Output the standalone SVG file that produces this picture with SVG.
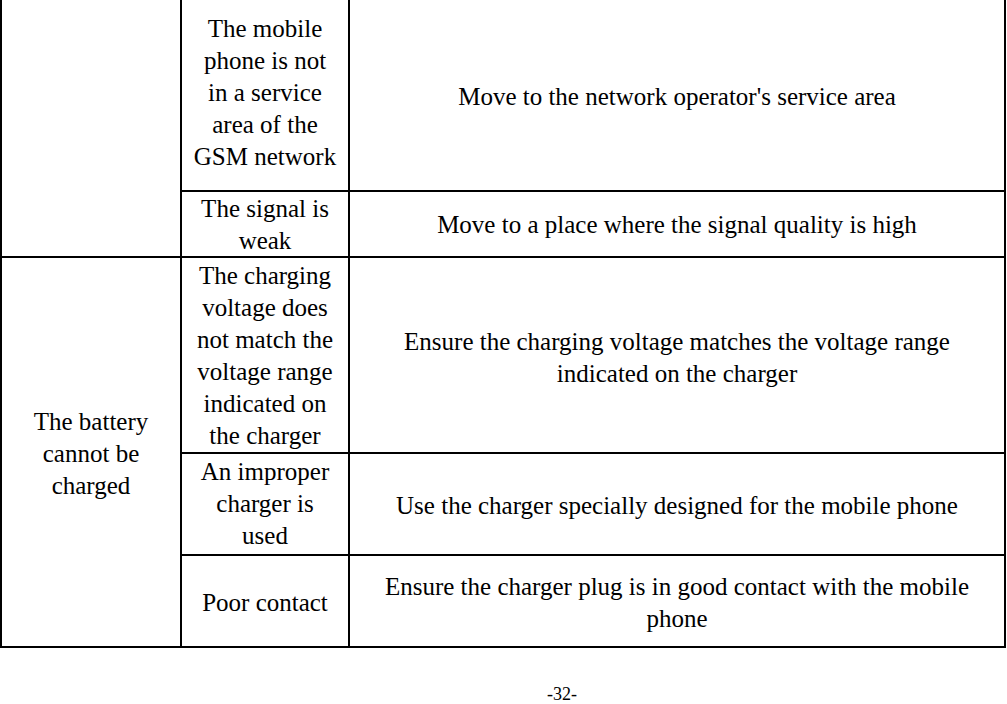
<svg xmlns="http://www.w3.org/2000/svg" width="1007" height="704" viewBox="0 0 1007 704">
<style>
text{font-family:"Liberation Serif",serif;font-size:25px;fill:#000;text-anchor:middle}
line{stroke:#000;stroke-width:2}
</style>
<rect width="1007" height="704" fill="#fff"/>
<g id="grid">
<line x1="1" y1="0" x2="1" y2="648"/>
<line x1="1005" y1="0" x2="1005" y2="648"/>
<line x1="181" y1="0" x2="181" y2="648"/>
<line x1="349" y1="0" x2="349" y2="648"/>
<line x1="181" y1="191" x2="1005" y2="191"/>
<line x1="0" y1="257" x2="1006" y2="257"/>
<line x1="181" y1="453" x2="1005" y2="453"/>
<line x1="181" y1="555" x2="1005" y2="555"/>
<line x1="0" y1="647" x2="1006" y2="647"/>
</g>
<g id="c1"><text x="265" y="37">The mobile</text><text x="265" y="69">phone is not</text><text x="265" y="101">in a service</text><text x="265" y="133">area of the</text><text x="265" y="165">GSM network</text></g>
<g id="r1"><text x="677" y="105">Move to the network operator's service area</text></g>
<g id="c2"><text x="265" y="217">The signal is</text><text x="265" y="249">weak</text></g>
<g id="r2"><text x="677" y="233">Move to a place where the signal quality is high</text></g>
<g id="battery"><text x="91" y="430">The battery</text><text x="91" y="462">cannot be</text><text x="91" y="494">charged</text></g>
<g id="c3"><text x="265" y="284">The charging</text><text x="265" y="316">voltage does</text><text x="265" y="348">not match the</text><text x="265" y="380">voltage range</text><text x="265" y="412">indicated on</text><text x="265" y="444">the charger</text></g>
<g id="r3"><text x="677" y="350">Ensure the charging voltage matches the voltage range</text><text x="677" y="382">indicated on the charger</text></g>
<g id="c4"><text x="265" y="480">An improper</text><text x="265" y="512">charger is</text><text x="265" y="544">used</text></g>
<g id="r4"><text x="677" y="514">Use the charger specially designed for the mobile phone</text></g>
<g id="c5"><text x="265" y="611">Poor contact</text></g>
<g id="r5"><text x="677" y="595">Ensure the charger plug is in good contact with the mobile</text><text x="677" y="627">phone</text></g>
<text x="562" y="700" style="font-size:18px">-32-</text>
</svg>
